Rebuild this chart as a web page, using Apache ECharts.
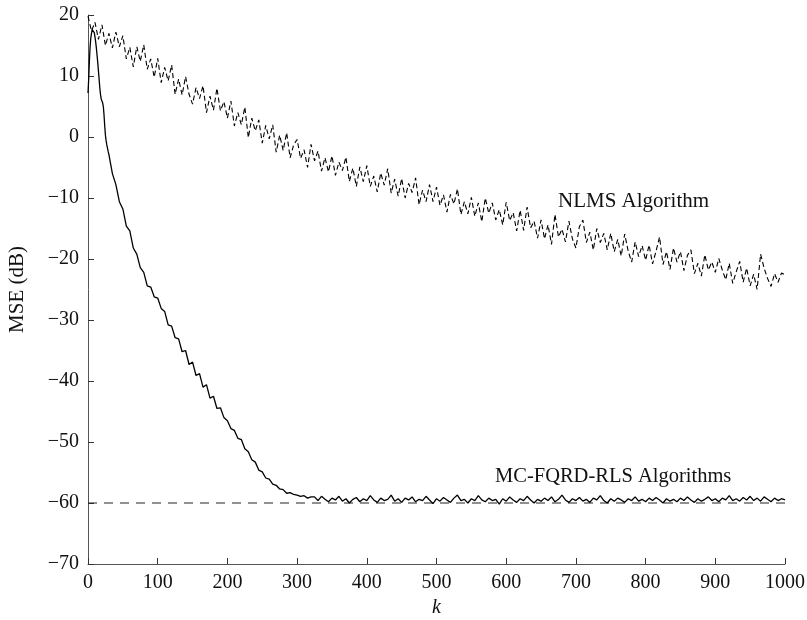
<!DOCTYPE html>
<html>
<head>
<meta charset="utf-8">
<script src="https://cdn.jsdelivr.net/npm/echarts@6/dist/echarts.min.js"></script>
<style>
html,body{margin:0;padding:0;background:#fff;}
#chart{width:807px;height:620px;}
</style>
</head>
<body>
<div id="chart"></div>
<script>
// ---------------- data ----------------
const xTicks = [0, 100, 200, 300, 400, 500, 600, 700, 800, 900, 1000];
const yTicks = [-70, -60, -50, -40, -30, -20, -10, 0, 10, 20];

// NLMS: k = 0, 5, 10, ..., 1000
const nlmsStep = 5;
const nlmsMse = [
  19.8, 17.4, 18.8, 16.0, 18.4, 15.0, 17.0, 14.6, 17.2, 14.8,
  16.6, 12.8, 14.7, 11.5, 14.8, 12.4, 15.1, 11.1, 12.8, 9.8,
  12.9, 8.9, 11.4, 9.2, 11.8, 7.0, 9.5, 6.9, 9.9, 7.0,
  5.4, 8.1, 6.3, 8.4, 4.0, 6.7, 4.4, 8.0, 4.3, 5.8,
  3.1, 5.9, 1.8, 4.0, 2.0, 4.9, -0.1, 3.1, 1.0, 2.8,
  -1.0, 1.9, -0.3, 2.0, -2.5, 0.3, -2.2, 0.7, -3.4, -1.3,
  -0.4, -3.5, -2.1, -5.0, -1.2, -3.9, -2.3, -5.6, -3.4, -5.7,
  -3.1, -6.3, -4.1, -5.5, -3.3, -7.3, -5.1, -8.1, -4.9, -7.3,
  -4.7, -8.1, -6.4, -9.0, -5.9, -7.9, -5.2, -9.2, -6.9, -9.7,
  -6.8, -10.0, -7.6, -9.1, -6.7, -11.1, -8.7, -10.6, -7.8, -10.6,
  -8.2, -11.2, -9.5, -12.3, -9.4, -11.0, -8.5, -12.7, -10.6, -12.6,
  -9.9, -13.0, -10.8, -13.9, -10.0, -12.5, -10.8, -13.6, -11.9, -14.4,
  -10.7, -13.7, -12.4, -15.4, -12.0, -15.3, -11.5, -14.9, -13.8, -16.6,
  -13.6, -16.7, -14.4, -17.6, -12.7, -16.4, -15.1, -17.2, -13.8, -16.7,
  -18.2, -14.7, -13.6, -17.3, -15.6, -18.5, -15.0, -17.3, -15.8, -18.5,
  -15.8, -18.8, -16.8, -19.5, -15.9, -18.7, -20.5, -17.2, -19.6, -17.8,
  -20.2, -17.7, -20.8, -18.7, -16.4, -20.9, -18.8, -21.7, -18.2, -20.5,
  -18.8, -21.9, -19.4, -18.5, -22.4, -20.7, -22.8, -19.3, -21.8, -20.5,
  -22.2, -19.9, -21.8, -23.4, -20.7, -24.0, -22.1, -20.4, -23.8, -21.5,
  -24.4, -22.5, -25.0, -19.2, -21.5, -23.2, -24.5, -22.4, -23.8, -22.3, -22.6
];

// MC-FQRD-RLS: k = 0..30 (step 1), then 35..1000 (step 5)
const rlsEarlyMse = [
  7.2, 9.5, 12.5, 14.8, 16.2, 17.0, 17.6, 17.9, 17.6, 17.1,
  16.4, 15.6, 14.6, 13.4, 12.2, 10.8, 9.4, 8.0, 6.9, 6.2,
  5.9, 5.6, 5.0, 3.6, 1.8, 0.3, -0.6, -1.3, -1.6, -2.4, -2.9
];
const rlsLateStart = 35;
const rlsLateStep = 5;
const rlsLateMse = [
  -6.0, -7.8, -10.6, -11.8, -14.6, -15.4, -18.2, -19.2, -21.4, -22.2,
  -24.4, -24.6, -26.2, -26.4, -28.1, -28.6, -30.8, -31.0, -32.9, -33.1,
  -35.2, -35.0, -37.3, -36.9, -39.1, -38.8, -41.0, -40.6, -42.8, -42.5,
  -44.5, -44.4, -46.0, -46.5, -47.8, -48.1, -49.4, -49.6, -51.1, -51.6,
  -52.9, -53.3, -54.6, -54.9, -55.9, -56.1, -56.9, -57.1, -57.7, -57.8,
  -58.4, -58.3, -58.6, -58.7, -58.9, -58.8, -59.2, -59.0,
  -59.0, -59.6, -58.9, -59.4, -59.8, -59.2, -59.5, -58.9, -59.7, -59.3,
  -60.0, -59.4, -59.1, -59.8, -59.3, -59.6, -58.8, -59.5, -59.9, -59.2,
  -59.6, -59.4, -58.7, -59.7, -59.3, -59.9, -59.2, -59.5, -59.0, -59.8,
  -59.4, -59.6, -58.9, -59.5, -60.1, -59.3, -59.7, -59.1, -59.5, -59.9,
  -59.2, -58.7, -59.6, -59.4, -60.0, -59.3, -59.6, -58.8, -59.5, -59.8,
  -59.2, -59.6, -59.4, -60.2, -59.3, -59.7, -59.0, -59.5, -59.9, -59.3,
  -59.6, -58.9, -59.5, -60.0, -59.4, -59.7, -59.2, -59.6, -59.0, -59.8,
  -59.4, -58.7, -59.5, -59.9, -59.3, -59.6, -59.1, -59.7, -59.4, -59.9,
  -59.2, -59.5, -58.8, -59.6, -60.0, -59.3, -59.7, -59.2, -59.5, -59.9,
  -59.3, -59.6, -59.0, -59.7, -59.4, -59.8, -59.2, -59.6, -59.1, -59.5,
  -60.0, -59.3, -59.7, -59.4, -59.8, -59.2, -59.6, -59.0, -59.5, -59.9,
  -59.3, -59.7, -59.4, -59.0, -59.6, -59.3, -59.8, -59.2, -59.5, -58.8,
  -59.6, -59.3, -59.7, -59.1, -59.5, -58.9, -59.6, -59.2, -59.7, -59.0,
  -59.4, -59.8, -59.2, -59.6, -59.3, -59.5
];

const floorLevel = -60;
const floorK = [0, 1000];

const nlmsLabel = 'NLMS Algorithm';
const rlsLabel = 'MC-FQRD-RLS Algorithms';
const xTitle = 'k';
const yTitle = 'MSE (dB)';

// ---------------- build ----------------
const nlmsData = nlmsMse.map((v, i) => [i * nlmsStep, v]);
const rlsData = rlsEarlyMse.map((v, i) => [i, v])
  .concat(rlsLateMse.map((v, i) => [rlsLateStart + i * rlsLateStep, v]));
const floorData = floorK.map(k => [k, floorLevel]);

const FONT = '"Liberation Serif", "DejaVu Serif", serif';
const minus = v => String(v).replace('-', '\u2212');

const chart = echarts.init(document.getElementById('chart'), null, {renderer: 'canvas'});
chart.setOption({
  animation: false,
  backgroundColor: '#ffffff',
  grid: {left: 88, right: 22, top: 15, bottom: 56, containLabel: false, outerBoundsMode: 'none'},
  xAxis: {
    type: 'value', min: xTicks[0], max: xTicks[xTicks.length - 1], interval: 100,
    axisLine: {show: true, onZero: false, lineStyle: {color: '#555', width: 1}},
    axisTick: {show: true, inside: true, length: 6, lineStyle: {color: '#333', width: 1}},
    axisLabel: {color: '#111', fontFamily: FONT, fontSize: 20, margin: 9, formatter: minus},
    splitLine: {show: false},
    name: xTitle, nameLocation: 'middle', nameGap: 32,
    nameTextStyle: {fontFamily: FONT, fontSize: 20, fontStyle: 'italic', color: '#111'}
  },
  yAxis: {
    type: 'value', min: yTicks[0], max: yTicks[yTicks.length - 1], interval: 10,
    axisLine: {show: true, onZero: false, lineStyle: {color: '#555', width: 1}},
    axisTick: {show: true, inside: true, length: 6, lineStyle: {color: '#333', width: 1}},
    axisLabel: {color: '#111', fontFamily: FONT, fontSize: 20, margin: 9, formatter: minus},
    splitLine: {show: false},
    name: yTitle, nameLocation: 'middle', nameGap: 60,
    nameTextStyle: {fontFamily: FONT, fontSize: 21, color: '#111'}
  },
  series: [
    {
      name: 'floor', type: 'line', data: floorData, symbol: 'none', silent: true,
      lineStyle: {color: '#222', width: 1, type: [9, 7]}
    },
    {
      name: nlmsLabel, type: 'line', data: nlmsData, symbol: 'none',
      lineStyle: {color: '#000', width: 1.1, type: [5, 3]}
    },
    {
      name: rlsLabel, type: 'line', data: rlsData, symbol: 'none',
      lineStyle: {color: '#000', width: 1.3}
    }
  ],
  graphic: [
    {type: 'text', left: 558, top: 191,
     style: {text: nlmsLabel, font: '21px ' + FONT, fill: '#111'}},
    {type: 'text', left: 495, top: 466,
     style: {text: rlsLabel, font: '20.5px ' + FONT, fill: '#111'}}
  ]
});
</script>
</body>
</html>
